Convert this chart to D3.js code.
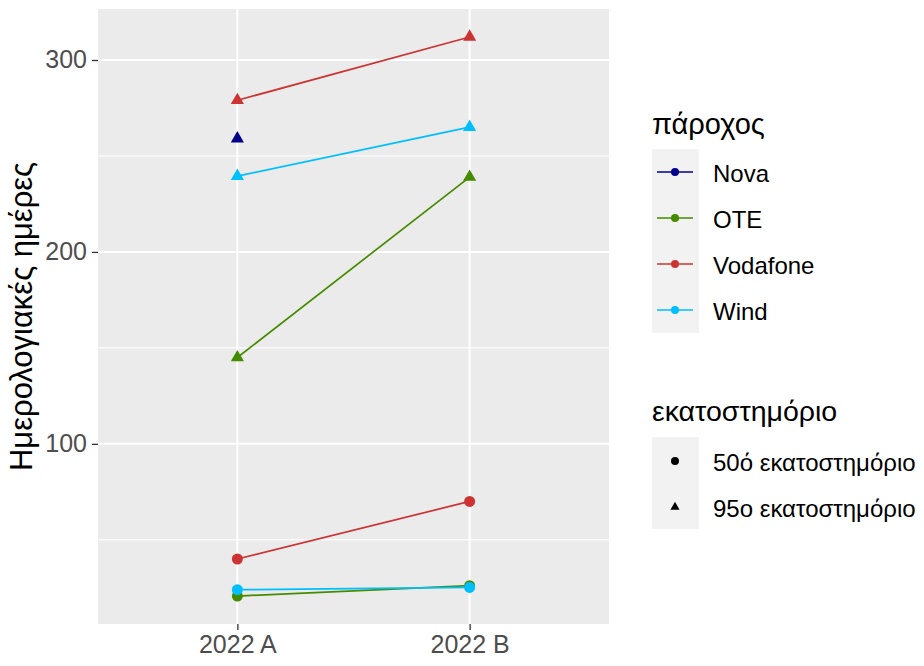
<!DOCTYPE html>
<html lang="el">
<head>
<meta charset="UTF-8">
<title>Ημερολογιακές ημέρες ανά πάροχο</title>
<script src="https://d3js.org/d3.v7.min.js"></script>
<style>
    body { margin: 0; background: #ffffff; }
    svg text { font-family: "Liberation Sans", Arial, sans-serif; }
</style>
</head>
<body>
<div id="chart"></div>
<script>
// δεδομένα
const periods = ["2022 A", "2022 B"];
const providers = ["Nova", "OTE", "Vodafone", "Wind"];
const providerColors = ["#00008B", "#458B00", "#CD3333", "#00BFFF"];
const percentiles = ["50ό εκατοστημόριο", "95ο εκατοστημόριο"];

// τιμές ανά πάροχο (2022 A, 2022 B), null = δεν υπάρχει
const p50Values = {
    "Nova":     [null, null],
    "OTE":      [20.7, 26.1],
    "Vodafone": [40, 70],
    "Wind":     [24, 25.2]
};
const p95Values = {
    "Nova":     [259, null],
    "OTE":      [145, 239],
    "Vodafone": [279, 312],
    "Wind":     [239.5, 265]
};
const yTicks = [100, 200, 300];
const yMinorTicks = [50, 150, 250];

const width = 924, height = 666;
const panel = { left: 98, right: 609, top: 9, bottom: 624 };

const svg = d3.select("#chart").append("svg")
    .attr("width", width)
    .attr("height", height);

// όλες οι σειρές
const series = [];
percentiles.forEach((pc, pi) => {
    const src = pi === 0 ? p50Values : p95Values;
    providers.forEach(p => {
        const pts = periods.map((per, i) => ({ period: per, value: src[p][i] }))
            .filter(d => d.value !== null);
        if (pts.length) series.push({ provider: p, percentile: pc, shape: pi, points: pts });
    });
});

const allVals = series.flatMap(s => s.points.map(d => d.value));
const vMin = d3.min(allVals), vMax = d3.max(allVals);
const pad = (vMax - vMin) * 0.05;

const x = d3.scalePoint().domain(periods).range([panel.left, panel.right]).padding(0.6);
const y = d3.scaleLinear().domain([vMin - pad, vMax + pad]).range([panel.bottom, panel.top]);
const color = d3.scaleOrdinal().domain(providers).range(providerColors);

// φόντο πάνελ
svg.append("rect")
    .attr("x", panel.left).attr("y", panel.top)
    .attr("width", panel.right - panel.left)
    .attr("height", panel.bottom - panel.top)
    .attr("fill", "#EBEBEB");

// πλέγμα
svg.selectAll(".minor").data(yMinorTicks).enter().append("line")
    .attr("x1", panel.left).attr("x2", panel.right)
    .attr("y1", d => y(d)).attr("y2", d => y(d))
    .attr("stroke", "#fff").attr("stroke-width", 1);
svg.selectAll(".major").data(yTicks).enter().append("line")
    .attr("x1", panel.left).attr("x2", panel.right)
    .attr("y1", d => y(d)).attr("y2", d => y(d))
    .attr("stroke", "#fff").attr("stroke-width", 2);
svg.selectAll(".vmajor").data(periods).enter().append("line")
    .attr("x1", d => x(d)).attr("x2", d => x(d))
    .attr("y1", panel.top).attr("y2", panel.bottom)
    .attr("stroke", "#fff").attr("stroke-width", 2);

// άξονες
const yAxis = svg.append("g")
    .attr("transform", `translate(${panel.left},0)`)
    .call(d3.axisLeft(y).tickValues(yTicks).tickSize(6).tickPadding(5));
const xAxis = svg.append("g")
    .attr("transform", `translate(0,${panel.bottom})`)
    .call(d3.axisBottom(x).tickSize(6).tickPadding(5));
[yAxis, xAxis].forEach(g => {
    g.select(".domain").remove();
    g.selectAll(".tick line").attr("stroke", "#333").attr("stroke-width", 1.3);
    g.selectAll(".tick text").attr("fill", "#4D4D4D").style("font-size", "25px");
});

svg.append("text")
    .attr("transform", `translate(32,${(panel.top + panel.bottom) / 2}) rotate(-90)`)
    .attr("text-anchor", "middle")
    .style("font-size", "31px")
    .attr("fill", "#000")
    .text("Ημερολογιακές ημέρες");

// γραμμές
const line = d3.line().x(d => x(d.period)).y(d => y(d.value));
series.filter(s => s.points.length > 1).forEach(s => {
    svg.append("path")
        .datum(s.points)
        .attr("d", line)
        .attr("fill", "none")
        .attr("stroke", color(s.provider))
        .attr("stroke-width", 1.7);
});

// σημεία
const circleSym = d3.symbol().type(d3.symbolCircle).size(95);
const triSym = d3.symbol().type(d3.symbolTriangle).size(75);
series.forEach(s => {
    svg.selectAll(null).data(s.points).enter().append("path")
        .attr("d", s.shape === 0 ? circleSym : triSym)
        .attr("transform", d => `translate(${x(d.period)},${y(d.value)})`)
        .attr("fill", color(s.provider));
});

// υπόμνημα: πάροχος
const lg1 = svg.append("g").attr("transform", "translate(652,0)");
lg1.append("text").attr("x", 0).attr("y", 134)
    .style("font-size", "29px").text("πάροχος");
lg1.append("rect").attr("x", 0).attr("y", 149)
    .attr("width", 47).attr("height", providers.length * 46)
    .attr("fill", "#F2F2F2");
providers.forEach((p, i) => {
    const cy = 172 + i * 46;
    lg1.append("line").attr("x1", 5).attr("x2", 41).attr("y1", cy).attr("y2", cy)
        .attr("stroke", color(p)).attr("stroke-width", 1.7);
    lg1.append("circle").attr("cx", 23).attr("cy", cy).attr("r", 4).attr("fill", color(p));
    lg1.append("text").attr("x", 61).attr("y", cy + 10)
        .style("font-size", "24px").text(p);
});

// υπόμνημα: εκατοστημόριο
const lg2 = svg.append("g").attr("transform", "translate(652,0)");
lg2.append("text").attr("x", 0).attr("y", 421)
    .style("font-size", "28.5px").text("εκατοστημόριο");
lg2.append("rect").attr("x", 0).attr("y", 437)
    .attr("width", 47).attr("height", percentiles.length * 46)
    .attr("fill", "#F2F2F2");
const legCircle = d3.symbol().type(d3.symbolCircle).size(50);
const legTri = d3.symbol().type(d3.symbolTriangle).size(36);
percentiles.forEach((pc, i) => {
    const cy = 461 + i * 46;
    lg2.append("path").attr("d", i === 0 ? legCircle : legTri)
        .attr("transform", `translate(23,${cy})`).attr("fill", "#000");
    lg2.append("text").attr("x", 61).attr("y", cy + 10)
        .style("font-size", "24px").text(pc);
});
</script>
</body>
</html>
